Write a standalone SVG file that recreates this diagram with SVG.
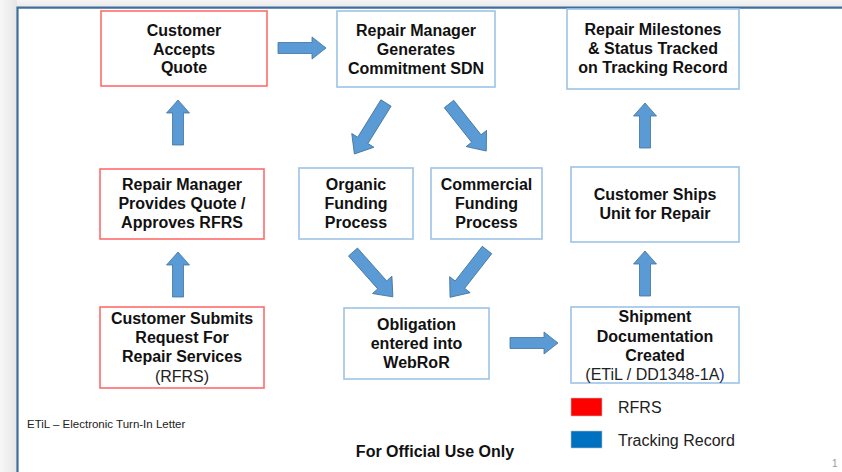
<svg xmlns="http://www.w3.org/2000/svg" width="842" height="472" viewBox="0 0 842 472">
  <style>
    .box-red { fill: #ffffff; stroke: #ff6b6b; stroke-width: 1.6; }
    .box-blue { fill: #ffffff; stroke: #9dc3e6; stroke-width: 1.6; }
    .lbl { font-family: "Liberation Sans", Arial, sans-serif; font-size: 16px; font-weight: bold; fill: #111111; text-anchor: middle; }
    .reg { font-family: "Liberation Sans", Arial, sans-serif; font-size: 16px; fill: #222222; }
    .arrow { fill: #5b9bd5; stroke: #41719c; stroke-width: 0.8; }
  </style>
  <defs>
    <linearGradient id="edgeL" x1="0" y1="0" x2="1" y2="0">
      <stop offset="0" stop-color="#f7f7f7"/>
      <stop offset="1" stop-color="#e6e6e6"/>
    </linearGradient>
    <linearGradient id="edgeT" x1="0" y1="0" x2="0" y2="1">
      <stop offset="0" stop-color="#f4f4f4"/>
      <stop offset="1" stop-color="#e8e8e8"/>
    </linearGradient>
    <!-- block arrows, all pointing along +x from the tail at the origin -->
    <path id="arrH" d="M0,-5.5 H34 V-11 L48,0 L34,11 V5.5 H0 Z"/>
    <path id="arrV" d="M0,-5.5 H32 V-11.5 L45,0 L32,11.5 V5.5 H0 Z"/>
    <path id="arrD" d="M0,-6 H44 V-13 L60,0 L44,13 V6 H0 Z"/>
  </defs>

  <!-- slide surround and frame -->
  <rect x="0" y="0" width="842" height="472" fill="#ffffff"/>
  <rect x="0" y="0" width="842" height="8" fill="url(#edgeT)"/>
  <rect x="0" y="0" width="17" height="472" fill="url(#edgeL)"/>
  <path d="M17.5,472 V7.6 H842" fill="none" stroke="#3f6e9e" stroke-width="2.2"/>

  <!-- connectors -->
  <g id="connectors" class="arrow">
    <use href="#arrH" transform="translate(278,48)"/>
    <use href="#arrH" transform="translate(510,343)"/>
    <use href="#arrV" transform="translate(178,145) rotate(-90)"/>
    <use href="#arrV" transform="translate(178,297) rotate(-90)"/>
    <use href="#arrV" transform="translate(645,296) rotate(-90)"/>
    <use href="#arrV" transform="translate(645,148) rotate(-90)"/>
    <use href="#arrD" transform="translate(386,103) rotate(121.8)"/>
    <use href="#arrD" transform="translate(449,104) rotate(51.6)"/>
    <use href="#arrD" transform="translate(353,252) rotate(48.4)"/>
    <use href="#arrD" transform="translate(487,250) rotate(128)"/>
  </g>

  <g id="customer-accepts-quote">
    <rect class="box-red" x="101" y="11" width="166" height="75"/>
    <text class="lbl" x="184" y="36">Customer</text>
    <text class="lbl" x="184" y="54.5">Accepts</text>
    <text class="lbl" x="184" y="73">Quote</text>
  </g>

  <g id="commitment-sdn">
    <rect class="box-blue" x="337" y="11" width="158" height="76"/>
    <text class="lbl" x="416" y="36">Repair Manager</text>
    <text class="lbl" x="416" y="54.5">Generates</text>
    <text class="lbl" x="416" y="74">Commitment SDN</text>
  </g>

  <g id="milestones-tracked">
    <rect class="box-blue" x="567" y="9" width="172" height="80"/>
    <text class="lbl" x="653" y="35">Repair Milestones</text>
    <text class="lbl" x="653" y="54">&amp; Status Tracked</text>
    <text class="lbl" x="653" y="73">on Tracking Record</text>
  </g>

  <g id="provides-quote">
    <rect class="box-red" x="100" y="169" width="164" height="70"/>
    <text class="lbl" x="182" y="190">Repair Manager</text>
    <text class="lbl" x="182" y="209">Provides Quote /</text>
    <text class="lbl" x="182" y="228">Approves RFRS</text>
  </g>

  <g id="organic-funding">
    <rect class="box-blue" x="299" y="168" width="114" height="71"/>
    <text class="lbl" x="356" y="190">Organic</text>
    <text class="lbl" x="356" y="209">Funding</text>
    <text class="lbl" x="356" y="228">Process</text>
  </g>

  <g id="commercial-funding">
    <rect class="box-blue" x="431" y="168" width="111" height="71"/>
    <text class="lbl" x="486.5" y="190">Commercial</text>
    <text class="lbl" x="486.5" y="209">Funding</text>
    <text class="lbl" x="486.5" y="228">Process</text>
  </g>

  <g id="customer-ships">
    <rect class="box-blue" x="571" y="167" width="168" height="75"/>
    <text class="lbl" x="655" y="200">Customer Ships</text>
    <text class="lbl" x="655" y="219">Unit for Repair</text>
  </g>

  <g id="customer-submits-rfrs">
    <rect class="box-red" x="100" y="307" width="164" height="81"/>
    <text class="lbl" x="182" y="324">Customer Submits</text>
    <text class="lbl" x="182" y="343">Request For</text>
    <text class="lbl" x="182" y="362">Repair Services</text>
    <text class="reg" x="182" y="382" text-anchor="middle">(RFRS)</text>
  </g>

  <g id="obligation-webror">
    <rect class="box-blue" x="344" y="308" width="145" height="71"/>
    <text class="lbl" x="416.5" y="330">Obligation</text>
    <text class="lbl" x="416.5" y="349">entered into</text>
    <text class="lbl" x="416.5" y="368">WebRoR</text>
  </g>

  <g id="shipment-docs">
    <rect class="box-blue" x="571" y="307" width="168" height="76"/>
    <text class="lbl" x="655" y="322">Shipment</text>
    <text class="lbl" x="655" y="342">Documentation</text>
    <text class="lbl" x="655" y="361">Created</text>
    <text class="reg" x="655" y="380" text-anchor="middle">(ETiL / DD1348-1A<tspan fill="#1f2a6b">)</tspan></text>
  </g>

  <!-- legend -->
  <g id="legend">
    <rect x="571" y="398" width="31" height="18" fill="#ff0000" stroke="#c0c0c0" stroke-width="0.6"/>
    <text class="reg" x="618" y="413">RFRS</text>
    <rect x="571" y="431" width="31" height="17" fill="#0070c0" stroke="#c0c0c0" stroke-width="0.6"/>
    <text class="reg" x="618" y="446">Tracking Record</text>
  </g>

  <text x="27" y="428" font-family="'Liberation Sans', Arial, sans-serif" font-size="11.5" fill="#222222">ETiL – Electronic Turn-In Letter</text>
  <text x="435" y="457" text-anchor="middle" font-family="'Liberation Sans', Arial, sans-serif" font-size="16" font-weight="bold" fill="#111111">For Official Use Only</text>
  <text x="832" y="467" font-family="'Liberation Sans', Arial, sans-serif" font-size="10" fill="#999999">1</text>
</svg>
